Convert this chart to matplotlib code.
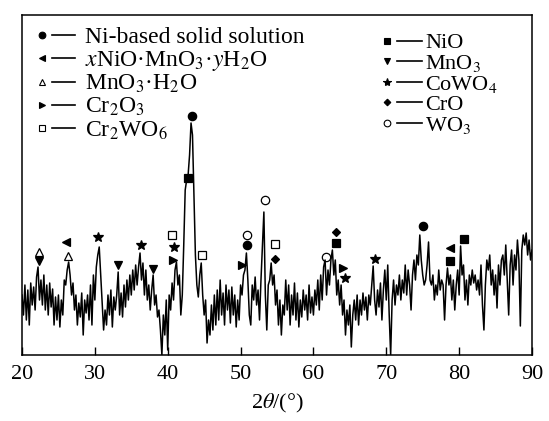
import numpy as np
import matplotlib
matplotlib.use("Agg")
import matplotlib.pyplot as plt

plt.rcParams['font.family'] = ['Liberation Serif', 'DejaVu Serif']
plt.rcParams['mathtext.fontset'] = 'stix'

# XRD trace: intensity (arb.) sampled every 0.2 deg from 20 to 90
two_theta_start = 20.0
two_theta_step = 0.2
intensity = [
    60, 40, 70, 35, 65,   30, 72, 50, 68, 45,
    78, 88, 55, 75, 50,   80, 45, 70, 40, 72,
    48, 66, 30, 58, 35,   60, 28, 55, 40, 75,
    70, 85, 93, 80, 60,   72, 45, 60, 30, 52,
    38, 62, 20, 55, 42,   60, 35, 70, 30, 80,
    55, 88, 100, 108, 80, 50, 25, 45, 30, 60,
    40, 65, 28, 58, 45,   60, 83, 40, 62, 38,
    70, 48, 75, 55, 80,   60, 85, 65, 90, 70,
    88, 102, 75, 92, 60,  85, 55, 70, 45, 65,
    80, 50, 60, 38, 45,   25, 0, 40, 20, 55,
    5, 60, 45, 72, 55,    85, 93, 70, 80, 40,
    60, 110, 165, 175, 180, 200, 232, 220, 160, 100,
    70, 58, 80, 92, 60,   40, 55, 12, 35, 20,
    50, 25, 60, 30, 65,   35, 75, 40, 62, 30,
    70, 45, 65, 32, 68,   40, 60, 28, 55, 35,
    70, 60, 80, 85, 102,  75, 40, 30, 70, 55,
    78, 50, 65, 35, 75,   110, 143, 60, 25, 70,
    75, 92, 70, 80, 50,   65, 30, 55, 20, 50,
    40, 75, 45, 70, 30,   60, 40, 72, 35, 62,
    28, 55, 38, 65, 45,   60, 35, 70, 42, 58,
    40, 65, 50, 75, 45,   80, 55, 88, 95, 60,
    85, 70, 95, 105, 80,  95, 60, 75, 50, 70,
    40, 55, 20, 45, 30,   50, 8, 40, 55, 35,
    60, 30, 55, 40, 62,   45, 58, 35, 60, 50,
    70, 89, 55, 40, 65,   48, 72, 35, 65, 85,
    55, 90, 40, 0, 55,    75, 50, 70, 60, 80,
    55, 75, 62, 90, 60,   85, 70, 45, 80, 95,
    75, 100, 90, 120, 95, 80, 70, 75, 90, 113,
    75, 70, 80, 55, 70,   60, 85, 65, 75, 70,
    35, 70, 87, 70, 80,   55, 75, 45, 70, 85,
    60, 109, 80, 90, 55,  75, 50, 80, 70, 85,
    72, 80, 65, 75, 60,   90, 50, 25, 70, 95,
    85, 100, 70, 85, 60,  80, 47, 90, 70, 95,
    100, 80, 110, 75, 40, 90, 105, 70, 100, 85,
    115, 95, 29, 105, 120, 110, 122, 100, 115, 95,
    105,
]
two_theta = two_theta_start + two_theta_step * np.arange(len(intensity))

# Phase markers: (2theta, height)
ni_ss = ([43.3, 50.9, 75.0], [239, 110, 129])
xnio = ([26.0, 78.7], [113, 107])
mno3h2o = ([22.3, 26.3], [103, 99])
cr2o3 = ([40.7, 50.2, 64.1], [95, 90, 87])
cr2wo6 = ([40.6, 44.7, 54.7], [120, 100, 111])
nio = ([42.8, 63.1, 78.7, 80.7], [177, 112, 94, 116])
mno3 = ([22.3, 33.2, 38.0], [94, 90, 86])
cowo4 = ([30.4, 36.3, 40.9, 64.3, 68.4], [118, 110, 108, 77, 96])
cro = ([54.7, 63.1], [96, 123])
wo3 = ([50.9, 53.35, 61.7], [120, 155, 98])

phases = [
    (ni_ss, 'o', 'k', 6, "Ni-based solid solution"),
    (xnio, '<', 'k', 6, "$x$NiO·MnO$_3$·$y$H$_2$O"),
    (mno3h2o, '^', 'none', 5.5, "MnO$_3$·H$_2$O"),
    (cr2o3, '>', 'k', 6, "Cr$_2$O$_3$"),
    (cr2wo6, 's', 'none', 6, "Cr$_2$WO$_6$"),
    (nio, 's', 'k', 5.5, "NiO"),
    (mno3, 'v', 'k', 6, "MnO$_3$"),
    (cowo4, '*', 'k', 7.5, "CoWO$_4$"),
    (cro, 'D', 'k', 4.2, "CrO"),
    (wo3, 'o', 'none', 6, "WO$_3$"),
]

fig = plt.figure(figsize=(5.49, 4.21), dpi=100)
ax = fig.add_axes([22/549, 66/421, 510/549, 340/421])
ax.plot(two_theta, intensity, color='k', lw=1.1)

for (xs, ys), m, fc, ms, lab in phases:
    ax.plot(xs, ys, linestyle='none', marker=m, markersize=ms,
            markerfacecolor=fc, markeredgecolor='k', markeredgewidth=0.9)

# text-style legend
left_rows = [0.941, 0.873, 0.804, 0.735, 0.667]
right_rows = [0.925, 0.864, 0.804, 0.743, 0.681]
cols = [(0.0386, 0.0588, 0.104, 0.123, left_rows, 17),
        (0.715, 0.735, 0.784, 0.791, right_rows, 16)]
for ci, (mx, d0, d1, tx, rows, fs) in enumerate(cols):
    for ri, fy in enumerate(rows):
        (_, _), m, fc, ms, lab = phases[ci * 5 + ri]
        ax.plot([mx], [fy], transform=ax.transAxes, linestyle='none', marker=m,
                markersize=ms * 0.8, markerfacecolor=fc, markeredgecolor='k',
                markeredgewidth=0.8, clip_on=False)
        ax.plot([d0, d1], [fy, fy], transform=ax.transAxes, color='k', lw=1.2)
        ax.text(tx, fy - 0.0235, lab, transform=ax.transAxes, fontsize=fs,
                va='baseline', ha='left')

ax.set_xlim(20, 90)
ax.set_ylim(0, 340)
ax.set_xticks(range(20, 91, 10))
ax.set_yticks([])
ax.tick_params(axis='x', direction='in', length=6, width=1, labelsize=16, pad=7)
for s in ax.spines.values():
    s.set_linewidth(1.1)
ax.set_xlabel(r"2$\theta$/(°)", fontsize=16, labelpad=6)

fig.savefig("out.png", dpi=100)
